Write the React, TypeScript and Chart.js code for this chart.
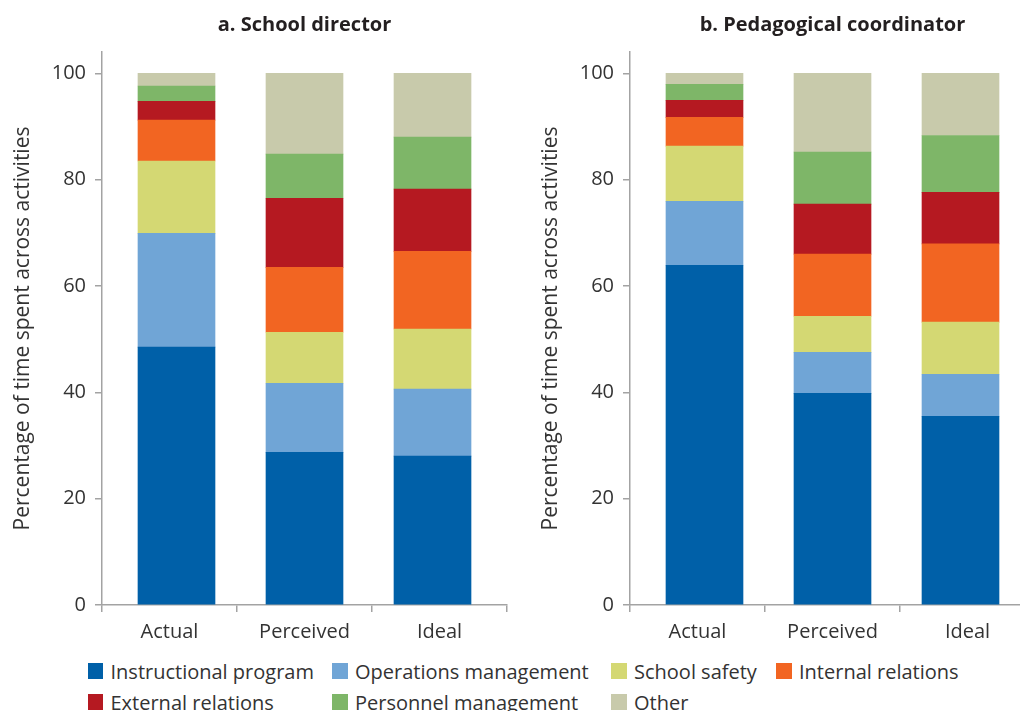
import React, { useEffect, useRef } from 'react';
import { Chart, registerables } from 'chart.js';

Chart.register(...registerables);

const categories = ['Actual', 'Perceived', 'Ideal'];
const seriesLabels = [
  'Instructional program',
  'Operations management',
  'School safety',
  'Internal relations',
  'External relations',
  'Personnel management',
  'Other',
];
const seriesColors = ['#0060a8', '#70a5d6', '#d4d873', '#f26522', '#b51921', '#7eb668', '#c8caab'];

// a. School director
const directorInstructional = [48.5, 28.7, 28.0];
const directorOperations = [21.4, 13.0, 12.6];
const directorSafety = [13.6, 9.6, 11.3];
const directorInternal = [7.7, 12.2, 14.6];
const directorExternal = [3.5, 13.0, 11.7];
const directorPersonnel = [2.9, 8.3, 9.8];
const directorOther = [2.4, 15.2, 12.0];

// b. Pedagogical coordinator
const coordinatorInstructional = [63.9, 39.8, 35.5];
const coordinatorOperations = [12.0, 7.7, 7.9];
const coordinatorSafety = [10.4, 6.8, 9.8];
const coordinatorInternal = [5.4, 11.7, 14.7];
const coordinatorExternal = [3.2, 9.4, 9.7];
const coordinatorPersonnel = [3.0, 9.8, 10.7];
const coordinatorOther = [2.1, 14.8, 11.7];

const panelTitles = ['a. School director', 'b. Pedagogical coordinator'];
const yAxisTitle = 'Percentage of time spent across activities';
const yMin = 0;
const yMax = 104;
const yStep = 20;
// the bars sit slightly closer together than the category tick marks
const barAxisMin = -0.582;
const barAxisMax = 2.582;

const directorSeries = [
  directorInstructional,
  directorOperations,
  directorSafety,
  directorInternal,
  directorExternal,
  directorPersonnel,
  directorOther,
];
const coordinatorSeries = [
  coordinatorInstructional,
  coordinatorOperations,
  coordinatorSafety,
  coordinatorInternal,
  coordinatorExternal,
  coordinatorPersonnel,
  coordinatorOther,
];

const FONT = "'Open Sans', 'Noto Sans', sans-serif";
const TEXT = '#333333';
const AXIS = '#a3a3a3';

function Panel({ series, left }: { series: number[][]; left: number }) {
  const ref = useRef<HTMLCanvasElement | null>(null);
  useEffect(() => {
    if (!ref.current) return;
    const chart = new Chart(ref.current, {
      type: 'bar',
      data: {
        labels: categories,
        datasets: seriesLabels.map((label, i) => ({
          label,
          data: series[i].map((v, k) => ({ x: k, y: v })),
          xAxisID: 'xBars',
          backgroundColor: seriesColors[i],
          borderWidth: 0,
          barThickness: 77,
        })),
      },
      options: {
        responsive: false,
        animation: false,
        devicePixelRatio: 1,
        font: { family: FONT },
        layout: { padding: { top: 52, right: 13, left: 0, bottom: 0 } },
        plugins: {
          legend: { display: false },
          tooltip: { enabled: false },
          title: { display: false },
        },
        scales: {
          xBars: {
            type: 'linear',
            display: false,
            stacked: true,
            min: barAxisMin,
            max: barAxisMax,
            offset: false,
          },
          x: {
            type: 'category',
            offset: true,
            grid: {
              display: true,
              drawOnChartArea: false,
              drawTicks: true,
              tickLength: 7,
              color: AXIS,
              lineWidth: 1.5,
              offset: true,
            },
            border: { display: true, color: AXIS, width: 1.5 },
            ticks: {
              color: TEXT,
              font: { family: FONT, size: 20 },
              padding: 8,
              maxRotation: 0,
              autoSkip: false,
            },
            afterFit: (s: any) => {
              s.height = 45;
            },
          },
          y: {
            stacked: true,
            min: yMin,
            max: yMax,
            ticks: {
              stepSize: yStep,
              includeBounds: false,
              color: TEXT,
              font: { family: FONT, size: 20 },
              padding: 9,
            },
            grid: {
              drawOnChartArea: false,
              drawTicks: true,
              tickLength: 7,
              color: AXIS,
              lineWidth: 1.5,
            },
            border: { display: true, color: AXIS, width: 1.5 },
            title: {
              display: true,
              text: yAxisTitle,
              color: TEXT,
              font: { family: FONT, size: 21 },
              padding: { top: 10, bottom: 0 },
            },
            afterFit: (s: any) => {
              s.width = 102;
            },
          },
        },
      } as any,
    });
    return () => chart.destroy();
  }, [series]);
  return (
    <canvas
      ref={ref}
      width={520}
      height={650}
      style={{ position: 'absolute', left, top: 0, width: 520, height: 650 }}
    />
  );
}

export default function App() {
  const offsets = [0, 528];
  const titleCenters = [304.5, 832.5];
  return (
    <div
      style={{
        position: 'fixed',
        left: 0,
        top: 0,
        width: 1020,
        height: 711,
        overflow: 'hidden',
        background: '#ffffff',
        fontFamily: FONT,
        color: TEXT,
      }}
    >
      <Panel series={directorSeries} left={offsets[0]} />
      <Panel series={coordinatorSeries} left={offsets[1]} />
      {panelTitles.map((t, i) => (
        <div
          key={t}
          style={{
            position: 'absolute',
            left: titleCenters[i] - 200,
            width: 400,
            top: 12,
            textAlign: 'center',
            fontWeight: 700,
            fontSize: 20,
            lineHeight: '24px',
            color: '#231f20',
            whiteSpace: 'nowrap',
          }}
        >
          {t}
        </div>
      ))}
      <div
        style={{
          position: 'absolute',
          left: 87.5,
          top: 655.5,
          display: 'grid',
          gridTemplateColumns: '244.5px 279px 165px auto',
          gridAutoRows: '31px',
        }}
      >
        {seriesLabels.map((label, i) => (
          <div
            key={label}
            style={{ display: 'flex', alignItems: 'center', height: 31, whiteSpace: 'nowrap' }}
          >
            <span
              style={{
                display: 'inline-block',
                width: 15.5,
                height: 15.5,
                background: seriesColors[i],
                marginRight: 7.5,
                flex: 'none',
              }}
            />
            <span style={{ fontSize: 20, lineHeight: '31px', color: TEXT }}>{label}</span>
          </div>
        ))}
      </div>
    </div>
  );
}
